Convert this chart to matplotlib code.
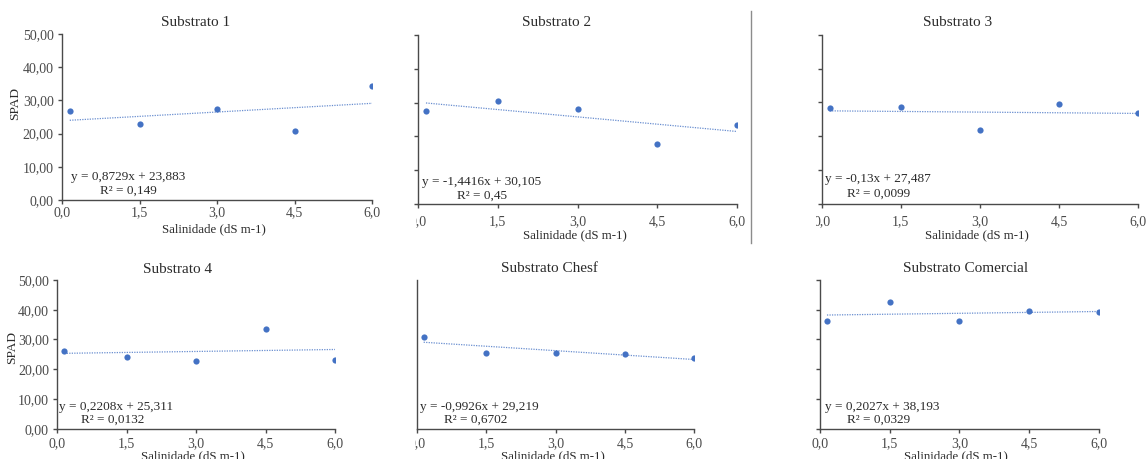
import numpy as np
import matplotlib
matplotlib.use("Agg")
import matplotlib.pyplot as plt
from matplotlib.ticker import FuncFormatter
from matplotlib.transforms import Bbox

plt.rcParams["font.family"] = ["Liberation Serif", "DejaVu Serif"]

# data
salinidade = [0.15, 1.5, 3.0, 4.5, 6.0]
x_ticks = [0.0, 1.5, 3.0, 4.5, 6.0]
y_ticks = [0, 10, 20, 30, 40, 50]

titles = ["Substrato 1", "Substrato 2", "Substrato 3",
          "Substrato 4", "Substrato Chesf", "Substrato Comercial"]

spad_s1 = [26.9, 22.8, 27.5, 20.7, 34.2]
spad_s2 = [27.6, 30.4, 28.2, 17.7, 23.4]
spad_s3 = [28.4, 28.7, 21.8, 29.4, 26.9]
spad_s4 = [26.2, 24.2, 22.7, 33.5, 23.1]
spad_chesf = [30.9, 25.4, 25.4, 25.2, 23.7]
spad_comercial = [36.2, 42.5, 36.3, 39.5, 39.4]

slopes = [0.8729, -1.4416, -0.13, 0.2208, -0.9926, 0.2027]
intercepts = [23.883, 30.105, 27.487, 25.311, 29.219, 38.193]
eq_labels = ["y = 0,8729x + 23,883", "y = -1,4416x + 30,105",
             "y = -0,13x + 27,487", "y = 0,2208x + 25,311",
             "y = -0,9926x + 29,219", "y = 0,2027x + 38,193"]
r2_labels = ["R² = 0,149", "R² = 0,45", "R² = 0,0099",
             "R² = 0,0132", "R² = 0,6702", "R² = 0,0329"]

series = [spad_s1, spad_s2, spad_s3, spad_s4, spad_chesf, spad_comercial]

W, H = 1148, 459
BLUE = "#4472C4"
TXT = "#2b2b2b"
AX = "#4a4a4a"

# layout in pixels (left, right, top, bottom) -- each panel is a pasted Excel chart
boxes = [(62, 372, 34, 200), (418, 737, 35, 204), (821.7, 1138, 34.7, 203.7),
         (57.3, 335, 280, 428.7), (416.7, 694.3, 280, 428.7), (820, 1098.7, 280, 428.7)]
title_pos = [(196, 22), (557, 22.7), (958, 22.7), (178, 269.3), (549, 268.7), (966, 269)]
eq_pos = [(71, 177.3), (421.7, 181.7), (825, 179.3), (59.3, 406.7), (419.7, 406.7), (825, 406.7)]
r2_pos = [(100, 191), (456.7, 195.7), (846.7, 193.3), (80.7, 420), (443.7, 420), (846.7, 420)]
tick_pad = [1.5, 5, 5, 3, 3, 3]
xlabel_y = [229.3, 235.5, 235.5, 456, 456, 456]
clip_left = [None, 416, 815.5, None, 414.5, None]
show_ylabels = [True, False, False, True, False, False]
show_yticks = [True, True, True, True, False, True]


def fx(px):
    return px / W


def fy(py):
    return 1 - py / H


fig = plt.figure(figsize=(W / 100, H / 100), dpi=100)

for i, ys in enumerate(series):
    l, r, t, b = boxes[i]
    ax = fig.add_axes([fx(l), fy(b), fx(r) - fx(l), fy(t) - fy(b)])
    ax.scatter(salinidade, ys, s=20, color=BLUE, zorder=3, linewidths=0)
    xx = np.array([salinidade[0], salinidade[-1]])
    ax.plot(xx, slopes[i] * xx + intercepts[i], ls=(0, (1, 1)), lw=0.9,
            color=BLUE, alpha=0.8)
    ax.set_xlim(0, 6)
    ax.set_ylim(0, 50)
    ax.set_xticks(x_ticks)
    ax.set_yticks(y_ticks)
    ax.xaxis.set_major_formatter(FuncFormatter(lambda v, p: f"{v:.1f}".replace(".", ",")))
    ax.yaxis.set_major_formatter(FuncFormatter(lambda v, p: f"{v:.2f}".replace(".", ",")))
    for s in ["top", "right"]:
        ax.spines[s].set_visible(False)
    for s in ["left", "bottom"]:
        ax.spines[s].set_color(AX)
        ax.spines[s].set_linewidth(1.0)
    ax.tick_params(axis="x", direction="out", length=3, width=1, color=AX,
                   labelcolor=AX, labelsize=10, pad=tick_pad[i])
    ax.tick_params(axis="y", direction="out", length=3 if show_yticks[i] else 0,
                   width=1, color=AX, labelcolor=AX, labelsize=10, pad=3,
                   labelleft=show_ylabels[i])

    if show_ylabels[i]:
        ypos = 104 if i == 0 else 347.7
        xpos = 15 if i == 0 else 12
        fig.text(fx(xpos), fy(ypos), "SPAD", rotation=90, ha="center", va="center",
                 fontsize=9.7, color=TXT)

    fig.text(fx((l + r) / 2 - 3), fy(xlabel_y[i]), "Salinidade (dS m-1)",
             ha="center", va="center", fontsize=9.3, color=TXT)
    fig.text(fx(title_pos[i][0]), fy(title_pos[i][1]), titles[i],
             ha="center", va="center", fontsize=11, color=TXT)
    fig.text(fx(eq_pos[i][0]), fy(eq_pos[i][1]), eq_labels[i],
             ha="left", va="center", fontsize=9.5, color=TXT)
    fig.text(fx(r2_pos[i][0]), fy(r2_pos[i][1]), r2_labels[i],
             ha="left", va="center", fontsize=9.5, color=TXT)

    if clip_left[i] is not None:
        clip = Bbox.from_extents(clip_left[i], 0, W, H)
        for lab in ax.get_xticklabels():
            lab.set_clip_box(clip)
            lab.set_clip_on(True)

# separator line between the pasted charts
fig.add_artist(plt.Line2D([fx(751), fx(751)], [fy(11), fy(243)],
                          color="#8c8c8c", lw=1))

fig.savefig("out.png", dpi=100)
